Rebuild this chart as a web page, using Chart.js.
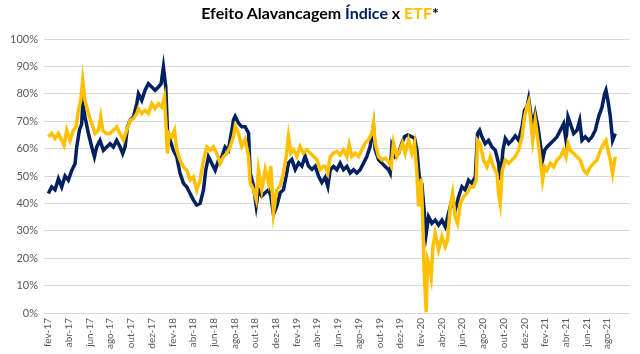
<!DOCTYPE html>
<html><head><meta charset="utf-8">
<script src="https://cdn.jsdelivr.net/npm/chart.js@4/dist/chart.umd.min.js"></script>
<style>
html,body{margin:0;padding:0;background:#fff;}
#wrap{position:relative;width:640px;height:354px;}
#title{position:absolute;left:0;top:3px;width:640px;text-align:center;font-family:Lato,'Open Sans',sans-serif;font-weight:bold;font-size:16px;color:#000;}
canvas{position:absolute;left:0;top:0;}
</style></head>
<body>
<div id="wrap">
<canvas id="c" width="640" height="354"></canvas>
<div id="title">Efeito Alavancagem <span style="color:#002060">Índice</span> x <span style="color:#FFC000">ETF</span>*</div>
</div>
<script>
// months since Feb-2017 (date axis) and values in %
const tickLabels = ['fev-17','abr-17','jun-17','ago-17','out-17','dez-17','fev-18','abr-18','jun-18','ago-18','out-18','dez-18','fev-19','abr-19','jun-19','ago-19','out-19','dez-19','fev-20','abr-20','jun-20','ago-20','out-20','dez-20','fev-21','abr-21','jun-21','ago-21'];
const yTicks = [0,10,20,30,40,50,60,70,80,90,100];

const indiceMonths = [0.03,0.35,0.68,1.00,1.32,1.64,1.96,2.29,2.61,2.77,3.03,3.25,3.35,3.57,3.90,4.22,4.48,4.70,5.02,5.35,5.67,5.99,6.31,6.63,6.96,7.21,7.44,7.67,7.92,8.25,8.57,
8.73,9.05,9.37,9.69,10.02,10.34,10.66,10.92,11.14,11.37,11.53,11.79,12.11,12.43,12.75,13.08,13.40,13.72,14.04,14.36,14.69,15.01,15.23,15.49,15.81,16.14,16.46,16.78,17.10,17.42,17.59,17.75,
17.91,18.07,18.39,18.71,19.03,19.36,19.52,19.84,20.10,20.32,20.64,20.97,21.29,21.51,21.77,22.09,22.42,22.74,23.00,23.22,23.54,23.87,24.19,24.51,24.83,25.15,25.48,25.80,26.12,26.44,
26.76,27.02,27.25,27.57,27.89,28.21,28.53,28.86,29.18,29.50,29.82,30.14,30.47,30.79,31.11,31.27,31.43,31.59,31.92,32.24,32.56,32.88,33.04,33.20,33.53,33.85,34.17,34.43,34.75,35.07,35.39,35.62,35.85,36.10,36.33,
36.52,36.75,37.07,37.39,37.71,38.04,38.36,38.68,39.00,39.32,39.65,39.97,40.29,40.61,40.93,41.26,41.48,41.68,41.90,42.22,42.54,42.87,43.19,43.51,43.67,43.93,44.16,44.48,44.80,
45.12,45.44,45.77,46.02,46.25,46.41,46.57,46.80,47.05,47.31,47.54,47.76,47.96,48.18,48.50,48.83,49.15,49.47,49.79,50.02,50.21,50.44,50.76,51.08,51.34,51.56,51.88,52.21,52.53,52.85,53.17,53.50,53.75,53.88,54.07,54.30,54.52,54.78];
const indiceValues = [43.6,46,45,49,46,50,48.5,52,54.5,60.6,66.7,69,76.4,71.6,65.5,60.6,57,60.6,63,59.4,60.6,61.8,60.6,63,60.6,58.2,60.6,67.9,70.3,71.6,76.4,
80,77.6,81.3,83.7,82.5,81.3,82.5,83.7,89.8,82.5,66.7,63,59.4,57,51,47.3,46,43.6,41.2,39.4,40,44.9,52.1,57,54.6,52.1,55.8,57,60.6,59.4,63.3,66.7,
70.5,71.8,69.3,68,68,65.7,51.2,46.3,39.2,45,42.7,43.9,45,42.7,36,39,43.9,45,50,54.8,56,52.4,54.8,53.6,57.2,53.6,52.4,53.6,50,47.6,
49.5,46.2,52.3,53.5,52.3,54.7,52.3,53.5,51.1,52.3,51.1,52.3,54.7,57.1,60.8,64.4,68.1,59.6,55.9,54.7,53.5,52.3,51.1,60.8,57.1,58.3,62,64.4,65,64.4,63.8,59.6,49.8,47,37,
29,35.1,32.7,33.9,32.1,33.9,31.5,36.4,41.2,37.6,42.4,46.1,44.9,48.5,47.3,49.7,65.5,66.7,64.3,61.8,63,60.6,59.4,54.6,48.5,59.4,63.7,61.8,63,
64.6,63,67.9,74,75.2,78.2,74,67.9,72.8,67.9,61.8,55.8,59.4,60.6,61.8,63,64.3,66.7,69.1,63,71.6,69.1,65.5,66.7,70.3,63,64.3,63,64.3,66.7,71.6,75.2,80,81.3,77.6,71.6,63,65.5];

const etfMonths = [0.03,0.35,0.68,1.00,1.32,1.55,1.80,2.13,2.45,2.71,2.93,3.16,3.35,3.57,3.90,4.22,4.54,4.86,5.09,5.28,5.60,5.99,6.31,6.63,6.96,7.28,7.60,7.92,8.25,8.57,
8.73,9.05,9.37,9.69,10.02,10.34,10.66,10.98,11.24,11.40,11.53,11.69,11.95,12.21,12.43,12.75,13.08,13.40,13.72,14.04,14.36,14.69,15.01,15.33,15.65,15.97,16.30,16.62,16.94,17.26,17.58,
17.91,18.07,18.39,18.71,19.03,19.36,19.52,19.84,20.10,20.32,20.64,20.97,21.29,21.51,21.77,22.09,22.42,22.74,23.00,23.22,23.45,23.71,24.03,24.35,24.67,24.99,25.31,25.64,25.96,26.28,26.60,
26.76,27.02,27.25,27.57,27.89,28.21,28.53,28.86,29.08,29.34,29.66,29.98,30.31,30.63,30.95,31.27,31.43,31.59,31.92,32.24,32.56,32.88,33.14,33.36,33.69,34.01,34.23,34.49,34.81,35.14,35.39,35.62,35.78,36.04,
36.20,36.33,36.52,36.65,36.84,37.00,37.17,37.39,37.71,38.04,38.36,38.58,38.84,39.07,39.32,39.55,39.81,40.13,40.45,40.77,41.09,41.35,41.48,41.74,42.06,42.38,42.71,43.03,43.35,43.51,43.67,43.87,44.16,44.48,44.80,45.12,
45.44,45.77,46.02,46.25,46.41,46.57,46.80,47.05,47.31,47.54,47.76,47.96,48.18,48.50,48.83,49.15,49.47,49.79,50.02,50.21,50.44,50.76,51.08,51.40,51.73,52.05,52.37,52.69,53.01,53.34,53.66,53.88,54.07,54.30,54.52,54.78];
const etfValues = [64.3,65.5,63.7,65.5,63,61.2,66.7,63,66.7,67.9,74,77.6,84.9,77.6,72.8,69,65.5,66.7,71.6,66.7,65.5,65.5,66.7,67.9,65.5,63,66.7,70.3,71,72.8,
74.6,72.8,74,72.8,76.4,74.6,76.4,75.2,78.8,67.9,58.2,65.5,64.3,66.7,59.4,55.8,53.3,52.1,48.5,49.7,44.9,48.5,55.8,60.6,59.4,60.6,58.2,54.6,57,58.2,60.6,
64.5,68.1,65.7,60.8,63.3,57.2,47.5,45,41.5,52.4,45,52.4,47.5,53.6,36.6,45,46.3,51.2,57.2,64.5,58.4,59.6,57.2,60.8,58.4,59.6,58.4,57.2,56,52.4,53.6,
53.5,51.1,57.1,58.3,59,57.7,59.6,57.1,61.4,57.1,58.3,57.1,59.6,62,63.2,65.6,69.3,62,57.1,55.9,56.5,55.3,53.5,62,57.1,59.6,62,58.3,63.2,58.3,62,51.1,38.9,49,
31.5,14.5,0.3,19.4,17,13.3,24.2,29.1,23,27.9,24.2,26.6,38.8,43.7,35.1,32.7,40,42.4,43.7,46.1,46.1,48.5,63,61.8,55.8,53.3,57,53.3,50.9,43.7,40,52.1,55.8,54.6,55.8,57,
59.4,64.3,71.6,75.2,77,71.6,63,70.3,63,55.8,48.5,53.3,52.1,54.6,53.3,55.8,57,59.4,57,61.8,59.4,58.2,57,55.8,52.1,50.9,53.3,54.6,55.8,59.4,61.8,63,59.4,55.8,50.9,57];

function pts(xs, ys){ const n=Math.min(xs.length, ys.length); const out=[]; for(let i=0;i<n;i++) out.push({x:xs[i], y:ys[i]}); return out; }

const FONT = "Lato, 'Open Sans', sans-serif";

// draws the x tick labels rotated (reading bottom-to-top), at the scale's own tick positions
const verticalTickLabels = {
  id: 'verticalTickLabels',
  afterDraw(chart) {
    const xs = chart.scales.x, ctx = chart.ctx;
    ctx.save();
    ctx.fillStyle = '#595959';
    ctx.font = '10px ' + FONT;
    ctx.textAlign = 'right';
    ctx.textBaseline = 'middle';
    xs.ticks.forEach((t, i) => {
      const px = xs.getPixelForValue(t.value);
      ctx.save();
      ctx.translate(px, xs.top + 5);
      ctx.rotate(-Math.PI / 2);
      ctx.fillText(tickLabels[i], 0, 0);
      ctx.restore();
    });
    ctx.restore();
  }
};

new Chart(document.getElementById('c'), {
  type: 'line',
  data: { datasets: [
    { label: 'Índice', data: pts(indiceMonths, indiceValues), borderColor: '#002060', borderWidth: 3.5, pointRadius: 0, tension: 0, order: 2 },
    { label: 'ETF', data: pts(etfMonths, etfValues), borderColor: '#FFC000', borderWidth: 3.5, pointRadius: 0, tension: 0, order: 1 }
  ]},
  plugins: [verticalTickLabels],
  options: {
    responsive: false, animation: false,
    layout: { padding: { top: 39, right: 10, left: 0, bottom: 0 } },
    plugins: { legend: { display: false }, tooltip: { enabled: false } },
    scales: {
      x: {
        type: 'linear', min: -0.39, max: 56.2,
        afterBuildTicks: s => { s.ticks = tickLabels.map((_, i) => ({ value: i * 2 })); },
        afterFit: s => { s.height = 41; },
        grid: { display: false }, border: { display: false },
        ticks: { display: false }
      },
      y: {
        min: 0, max: 100,
        afterBuildTicks: s => { s.ticks = yTicks.map(v => ({ value: v })); },
        afterFit: s => { s.width = 44; },
        grid: { color: '#d9d9d9', lineWidth: 1, drawTicks: false }, border: { display: false },
        ticks: { padding: 6, color: '#595959', font: { family: FONT, size: 11 }, callback: v => v + '%' }
      }
    }
  }
});
</script>
</body></html>
